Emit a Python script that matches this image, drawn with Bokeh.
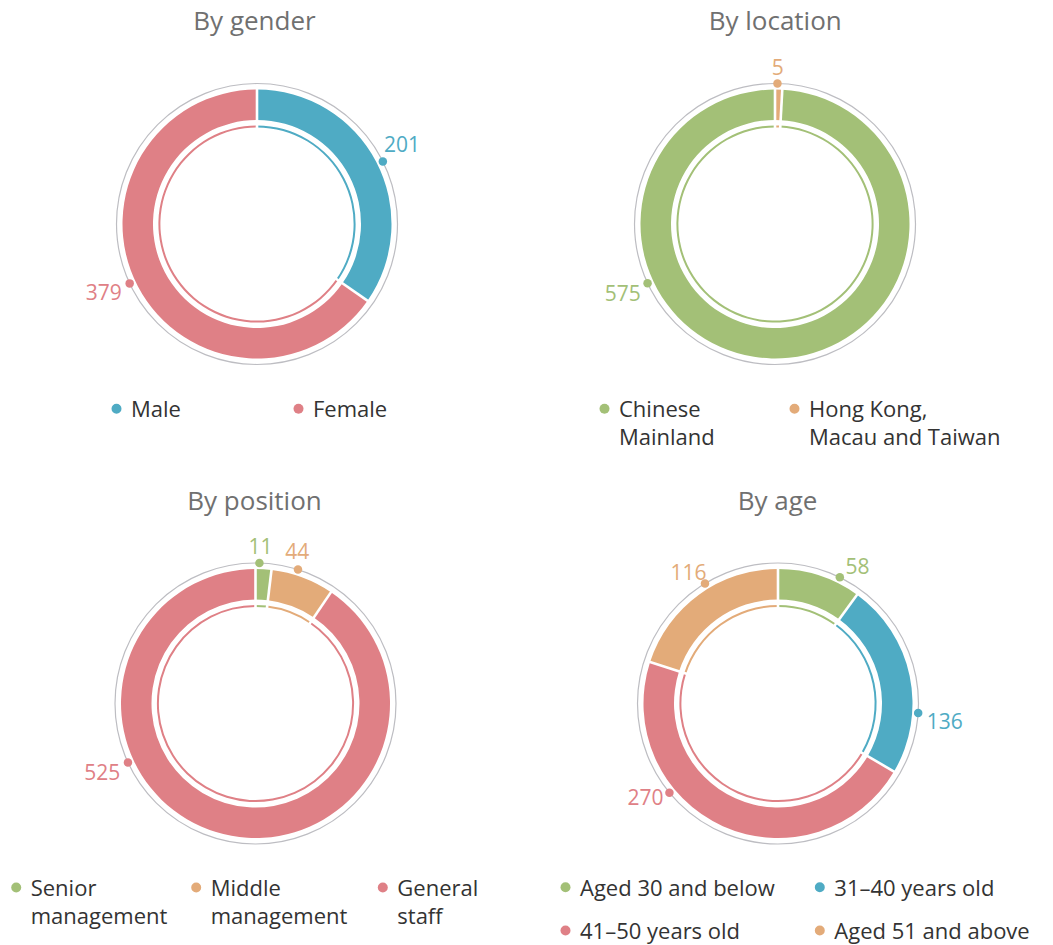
import math
from bokeh.plotting import figure
from bokeh.models import Range1d
from bokeh.core.properties import value
from bokeh.embed import file_html
from bokeh.resources import INLINE

# ---------------- data ----------------
titles = ["By gender", "By location", "By position", "By age"]

gender_labels = ["Male", "Female"]
gender_values = [201, 379]

location_labels = ["Chinese\nMainland", "Hong Kong,\nMacau and Taiwan"]
location_values = [575, 5]

position_labels = ["Senior\nmanagement", "Middle\nmanagement", "General\nstaff"]
position_values = [11, 44, 525]

age_labels = ["Aged 30 and below", "31\u201340 years old", "41\u201350 years old", "Aged 51 and above"]
age_values = [58, 136, 270, 116]

# ---------------- style ----------------
BLUE = "#4FABC4"
PINK = "#DF8086"
GREEN = "#A3C077"
ORANGE = "#E3AB79"
RING_GRAY = "#BDBDC2"
TITLE_COLOR = "#707070"
LEGEND_COLOR = "#333333"
FONT = "Open Sans"
TEXT_DY = 8.0  # svg baseline correction (pixels)

W, H = 1053, 945

panels = [
    dict(title=titles[0], labels=gender_labels, values=gender_values, colors=[BLUE, PINK],
         ring_order=[0, 1], center=(256.5, 223.5), title_pos=(254, 27.5),
         legend_pos=[(116, 408.3), (298, 408.3)],
         dot_ang=[63.6, 245.0], txt_ang=[61.4, 245.9]),
    dict(title=titles[1], labels=location_labels, values=location_values, colors=[GREEN, ORANGE],
         ring_order=[1, 0], center=(774.5, 223.5), title_pos=(774.7, 27.5),
         legend_pos=[(604, 408.3), (794, 408.3)],
         dot_ang=[245.1, 1.0], txt_ang=[245.4, 1.0]),
    dict(title=titles[2], labels=position_labels, values=position_values, colors=[GREEN, ORANGE, PINK],
         ring_order=[0, 1, 2], center=(255, 703), title_pos=(254, 507.8),
         legend_pos=[(15.7, 887), (195.7, 887), (382.3, 887)],
         dot_ang=[1.6, 17.6, 245.2], txt_ang=[1.8, 15.4, 245.9]),
    dict(title=titles[3], labels=age_labels, values=age_values, colors=[GREEN, BLUE, PINK, ORANGE],
         ring_order=[0, 1, 2, 3], center=(777.5, 703), title_pos=(777, 507.8),
         legend_pos=[(565, 886.7), (819.3, 886.7), (565, 930), (819.3, 930)],
         dot_ang=[26.1, 93.9, 230.6, 328.7], txt_ang=[30.2, 96.1, 234.7, 325.6]),
]

R_GRAY = 140.5
R_THICK_OUT = 134.5
R_THICK_IN = 104.0
R_THIN_OUT = 98.6
R_THIN_IN = 96.6


def Y(v):
    return H - v


p = figure(width=W, height=H, x_range=Range1d(0, W), y_range=Range1d(0, H),
           output_backend="svg", toolbar_location=None, min_border=0,
           x_axis_type=None, y_axis_type=None)
p.grid.visible = False
p.outline_line_color = None
p.background_fill_color = "white"
p.border_fill_color = "white"


def pt(cx, cy, r, deg):
    a = math.radians(deg)
    return cx + r * math.sin(a), Y(cy) + r * math.cos(a)


for pan in panels:
    cx, cy = pan["center"]
    vals = pan["values"]
    total = float(sum(vals))
    # outer gray circle
    p.circle(x=[cx], y=[Y(cy)], radius=R_GRAY, fill_color=None,
             line_color=RING_GRAY, line_width=1.2)
    # segments, clockwise from 12 o'clock
    acc = 0.0
    starts, ends, cols, bounds = [], [], [], []
    for i in pan["ring_order"]:
        t1 = acc / total * 360.0
        acc += vals[i]
        t2 = acc / total * 360.0
        starts.append(math.pi / 2 - math.radians(t2))
        ends.append(math.pi / 2 - math.radians(t1))
        cols.append(pan["colors"][i])
        bounds.append(t1)
    n = len(starts)
    p.annular_wedge(x=[cx] * n, y=[Y(cy)] * n, inner_radius=R_THICK_IN, outer_radius=R_THICK_OUT,
                    start_angle=starts, end_angle=ends, fill_color=cols, line_color=None)
    p.annular_wedge(x=[cx] * n, y=[Y(cy)] * n, inner_radius=R_THIN_IN, outer_radius=R_THIN_OUT,
                    start_angle=starts, end_angle=ends, fill_color=cols, line_color=None)
    # white separators
    x0s, y0s, x1s, y1s = [], [], [], []
    for b in bounds:
        a0 = pt(cx, cy, 93.0, b)
        a1 = pt(cx, cy, 137.0, b)
        x0s.append(a0[0]); y0s.append(a0[1]); x1s.append(a1[0]); y1s.append(a1[1])
    p.segment(x0=x0s, y0=y0s, x1=x1s, y1=y1s, line_color="white", line_width=2.6)

    # value labels with dots
    for i, v in enumerate(vals):
        col = pan["colors"][i]
        dx, dy = pt(cx, cy, R_GRAY, pan["dot_ang"][i])
        p.scatter(x=[dx], y=[dy], size=8.5, fill_color=col, line_color=None)
        s = str(v)
        ta = math.radians(pan["txt_ang"][i])
        w = len(s) * 12.0
        h = 15.0
        sn, cs = abs(math.sin(ta)), abs(math.cos(ta))
        ext = min((w / 2) / sn if sn > 1e-6 else 1e9, (h / 2) / cs if cs > 1e-6 else 1e9)
        rt = R_GRAY + 9 + ext
        tx = cx + rt * math.sin(ta)
        ty = Y(cy) + rt * math.cos(ta)
        p.text(x=[tx], y=[ty - 7.5 + TEXT_DY], text=[s], text_align="center", text_baseline="alphabetic",
               text_color=col, text_font=value(FONT), text_font_size="21px")

    # title
    tx, ty = pan["title_pos"]
    p.text(x=[tx], y=[Y(ty) + TEXT_DY], text=[pan["title"]], text_align="center",
           text_baseline="alphabetic", text_color=TITLE_COLOR,
           text_font=value(FONT), text_font_size="26px")

    # legend
    for i, lab in enumerate(pan["labels"]):
        lx, ly = pan["legend_pos"][i]
        p.scatter(x=[lx], y=[Y(ly)], size=10, fill_color=pan["colors"][i], line_color=None)
        for k, line in enumerate(lab.split("\n")):
            p.text(x=[lx + 14.5], y=[Y(ly + 7.3 + 28 * k) + TEXT_DY], text=[line], text_align="left",
                   text_baseline="alphabetic", text_color=LEGEND_COLOR,
                   text_font=value(FONT), text_font_size="22px")

open("out.html", "w").write(file_html(p, INLINE))
